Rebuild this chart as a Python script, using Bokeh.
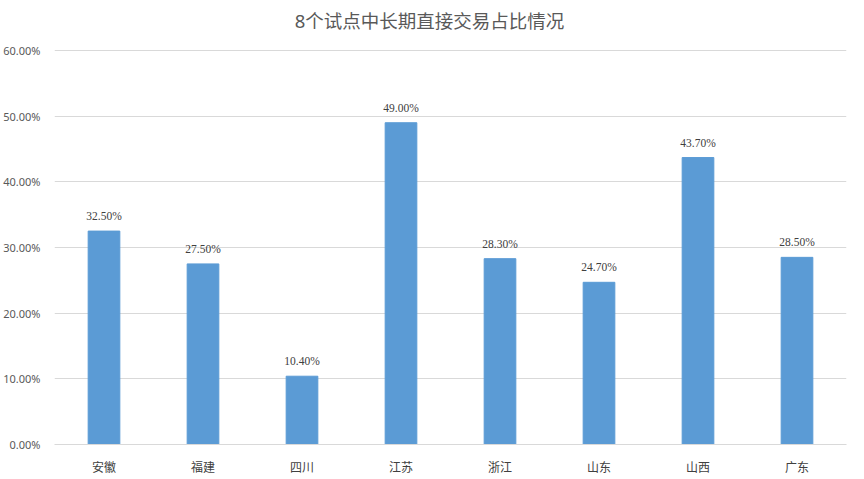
from bokeh.plotting import figure
from bokeh.models import ColumnDataSource, Range1d, NumeralTickFormatter, LabelSet, FixedTicker, Label
from bokeh.embed import file_html
from bokeh.resources import INLINE

categories = ["安徽", "福建", "四川", "江苏", "浙江", "山东", "山西", "广东"]
shares = [0.325, 0.275, 0.104, 0.490, 0.283, 0.247, 0.437, 0.285]
y_ticks = [0.0, 0.1, 0.2, 0.3, 0.4, 0.5, 0.6]
title_text = "8个试点中长期直接交易占比情况"

FONT = "'Noto Sans', 'Noto Sans CJK SC', sans-serif"

src = ColumnDataSource(dict(
    cat=categories,
    val=shares,
    lbl=["%.2f%%" % (v * 100) for v in shares],
))

FW = 792
GRID_H = 394          # pixel height of the 0..60% band
FH = 444              # frame extends above the band to hold the title
y_max = y_ticks[-1] * FH / GRID_H

p = figure(x_range=categories, y_range=Range1d(0, y_max),
           frame_width=FW, frame_height=FH,
           min_border_left=47, min_border_right=9, min_border_top=0, min_border_bottom=19,
           output_backend="svg", toolbar_location=None)

p.vbar(x="cat", top="val", width=0.32, color="#5B9BD5", source=src)

labels = LabelSet(x="cat", y="val", text="lbl", source=src, text_align="center",
                  text_baseline="bottom", y_offset=9, text_font_size="11.5px",
                  text_color="#404040", text_font=FONT)
p.add_layout(labels)

title = Label(x=FW / 2 - 21, y=GRID_H + 30, x_units="screen", y_units="screen",
              text=title_text, text_align="center", text_baseline="middle",
              text_font=FONT, text_font_size="18.5px", text_color="#595959")
p.add_layout(title)

p.yaxis.ticker = FixedTicker(ticks=y_ticks)
p.yaxis.formatter = NumeralTickFormatter(format="0.00%")
p.yaxis.axis_line_color = None
p.yaxis.major_tick_line_color = None
p.yaxis.minor_tick_line_color = None
p.yaxis.major_label_text_font = FONT
p.yaxis.major_label_text_font_size = "11px"
p.yaxis.major_label_text_color = "#595959"
p.yaxis.major_label_standoff = 8

p.xaxis.axis_line_color = "#D9D9D9"
p.xaxis.major_tick_line_color = None
p.xaxis.minor_tick_line_color = None
p.xaxis.major_label_text_font = FONT
p.xaxis.major_label_text_font_size = "12px"
p.xaxis.major_label_text_color = "#404040"
p.xaxis.major_label_standoff = 8

p.xgrid.grid_line_color = None
p.ygrid.grid_line_color = "#D9D9D9"
p.outline_line_color = None
p.x_range.range_padding = 0

open("out.html", "w").write(file_html(p, INLINE))
